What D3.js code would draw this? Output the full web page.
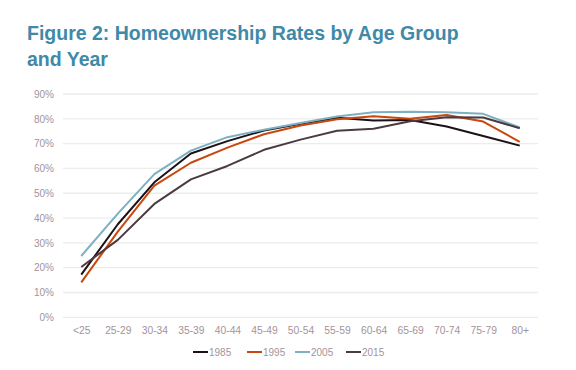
<!DOCTYPE html>
<html>
<head>
<meta charset="utf-8">
<script src="https://cdn.jsdelivr.net/npm/d3@7"></script>
<style>
  body { margin: 0; background: #fff; }
  svg { display: block; font-family: "Liberation Sans", Arial, sans-serif; }
</style>
</head>
<body>
<svg id="chart" width="576" height="370"></svg>
<script>
// age groups along the x axis
var ageGroups = ["<25", "25-29", "30-34", "35-39", "40-44", "45-49", "50-54", "55-59", "60-64", "65-69", "70-74", "75-79", "80+"];

// homeownership rate (%) per year
var rates1985 = [17.2, 37.5, 54.4, 66.0, 71.0, 75.3, 78.0, 80.4, 79.3, 79.5, 76.9, 73.1, 69.2];
var rates1995 = [14.1, 34.5, 53.1, 62.3, 68.4, 73.8, 77.3, 79.8, 81.0, 80.0, 81.5, 78.9, 70.7];
var rates2005 = [24.7, 41.8, 57.7, 67.2, 72.6, 75.6, 78.3, 80.9, 82.6, 82.8, 82.6, 82.0, 76.5];
var rates2015 = [20.3, 31.2, 45.7, 55.6, 61.0, 67.5, 71.6, 75.2, 76.0, 79.0, 80.6, 80.5, 76.2];

var years = ["1985", "1995", "2005", "2015"];
var yTicks = [0, 10, 20, 30, 40, 50, 60, 70, 80, 90];

var series = [
    { year: years[0], values: rates1985, color: "#1c1116" },
    { year: years[1], values: rates1995, color: "#c8470e" },
    { year: years[2], values: rates2005, color: "#7cb0c2" },
    { year: years[3], values: rates2015, color: "#4b3b40" }
];

var svg = d3.select("#chart");

// title
var title = svg.append("text")
    .attr("x", 27)
    .attr("y", 39.5)
    .attr("fill", "#4089a8")
    .attr("font-size", "19.5px")
    .attr("font-weight", "bold");
title.append("tspan").attr("x", 27).text("Figure 2: Homeownership Rates by Age Group");
title.append("tspan").attr("x", 27).attr("dy", 26.3).text("and Year");

var plotLeft = 63, plotRight = 538, plotTop = 94, plotBottom = 317.3;

var x = d3.scalePoint()
    .domain(ageGroups)
    .range([plotLeft, plotRight])
    .padding(0.5);

var y = d3.scaleLinear()
    .domain([0, 90])
    .range([plotBottom, plotTop]);

// gridlines
svg.append("g")
    .selectAll("line")
    .data(yTicks)
    .join("line")
    .attr("x1", plotLeft)
    .attr("x2", plotRight)
    .attr("y1", d => y(d))
    .attr("y2", d => y(d))
    .attr("stroke", "#ececec")
    .attr("stroke-width", 1.3);

// y axis labels
var yAxis = svg.append("g")
    .attr("transform", "translate(" + plotLeft + ",0)")
    .call(d3.axisLeft(y).tickValues(yTicks).tickSize(0).tickPadding(9).tickFormat(d => d + "%"));
yAxis.select(".domain").remove();
yAxis.selectAll("text")
    .attr("fill", "#a3939b")
    .attr("font-size", "10px")
    .attr("font-family", "Liberation Sans, Arial, sans-serif");

// x axis labels
var xAxis = svg.append("g")
    .attr("transform", "translate(0," + plotBottom + ")")
    .call(d3.axisBottom(x).tickSize(0).tickPadding(9));
xAxis.select(".domain").remove();
xAxis.selectAll("text")
    .attr("fill", "#a3939b")
    .attr("font-size", "10.3px")
    .attr("font-family", "Liberation Sans, Arial, sans-serif");

// lines
var line = d3.line()
    .x((d, i) => x(ageGroups[i]))
    .y(d => y(d));

svg.append("g")
    .selectAll("path")
    .data(series)
    .join("path")
    .attr("d", d => line(d.values))
    .attr("fill", "none")
    .attr("stroke", d => d.color)
    .attr("stroke-width", 2)
    .attr("stroke-linejoin", "round");

// legend
var legendX = [193, 247, 295, 346];
var legend = svg.append("g")
    .selectAll("g")
    .data(series)
    .join("g")
    .attr("transform", (d, i) => "translate(" + legendX[i] + ",352)");
legend.append("line")
    .attr("x1", 0)
    .attr("x2", 15)
    .attr("stroke", d => d.color)
    .attr("stroke-width", 2);
legend.append("text")
    .attr("x", 16)
    .attr("y", 3.6)
    .attr("fill", "#a3939b")
    .attr("font-size", "10px")
    .text(d => d.year);
</script>
</body>
</html>
